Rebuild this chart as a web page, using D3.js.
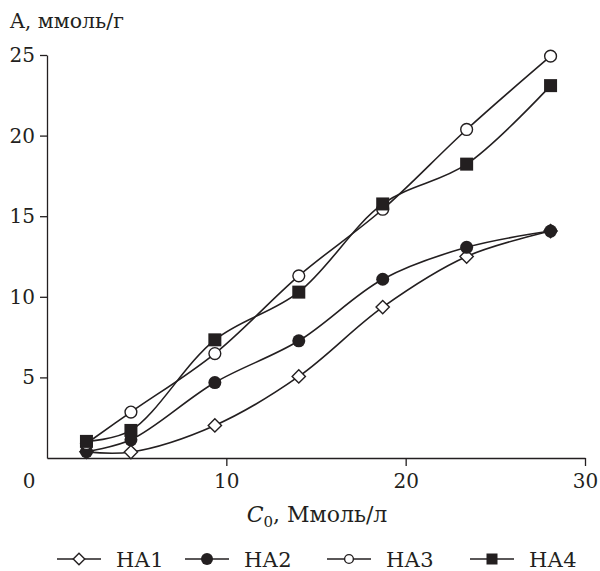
<!DOCTYPE html>
<html>
<head>
<meta charset="utf-8">
<script src="https://cdn.jsdelivr.net/npm/d3@7"></script>
<style>
    body { margin: 0; background: #fff; }
    text { font-family: "DejaVu Serif", serif; fill: #231f20; }
</style>
</head>
<body>
<div id="chart"></div>
<script>
// concentrations, mmol/l
const concentrations = [2.2, 4.68, 9.36, 14.04, 18.72, 23.4, 28.08];

const seriesNames = ["НА1", "НА2", "НА3", "НА4"];
const ha1 = [0.38, 0.37, 2.02, 5.06, 9.36, 12.5, 14.08];
const ha2 = [0.4, 1.13, 4.68, 7.27, 11.09, 13.07, 14.08];
const ha3 = [0.9, 2.85, 6.48, 11.3, 15.43, 20.38, 24.93];
const ha4 = [1.03, 1.71, 7.33, 10.29, 15.76, 18.23, 23.1];

const xTicks = [10, 20, 30];
const yTicks = [5, 10, 15, 20, 25];

const margin = { top: 55, right: 15, bottom: 113, left: 47 };
const width = 600 - margin.left - margin.right;
const height = 571 - margin.top - margin.bottom;
const ink = "#231f20";

const svg = d3.select("#chart").append("svg")
    .attr("width", 600)
    .attr("height", 571);

const chart = svg.append("g")
    .attr("transform", `translate(${margin.left},${margin.top})`);

const x = d3.scaleLinear().domain([0, 30]).range([0, 538]);
const y = d3.scaleLinear().domain([0, 25]).range([height, 0]);

// axes
const xAxis = chart.append("g")
    .attr("transform", `translate(0,${height})`)
    .call(d3.axisBottom(x).tickValues(xTicks).tickSize(8).tickPadding(8).tickSizeOuter(0));
const yAxis = chart.append("g")
    .call(d3.axisLeft(y).tickValues(yTicks).tickSize(7).tickPadding(5).tickSizeOuter(0));

[xAxis, yAxis].forEach(a => {
    a.select(".domain").attr("stroke", ink).attr("stroke-width", 1.3);
    a.selectAll(".tick line").attr("stroke", ink).attr("stroke-width", 1.3);
    a.selectAll(".tick text").style("font-family", "DejaVu Serif").style("font-size", "20px").attr("fill", ink);
});

// origin label
chart.append("text")
    .attr("x", -18).attr("y", height + 30)
    .attr("text-anchor", "middle")
    .style("font-size", "20px")
    .text("0");

// axis titles
svg.append("text")
    .attr("x", 10).attr("y", 28)
    .style("font-size", "20.5px")
    .text("A, ммоль/г");

const xTitle = svg.append("text")
    .attr("x", 317).attr("y", 522)
    .attr("text-anchor", "middle")
    .style("font-size", "22px");
xTitle.append("tspan").style("font-style", "italic").text("C");
xTitle.append("tspan").attr("dy", 5).style("font-size", "15px").text("0");
xTitle.append("tspan").attr("dy", -5).text(", Ммоль/л");

// series
const allSeries = [ha1, ha2, ha3, ha4].map((vals, i) => ({
    name: seriesNames[i],
    points: vals.map((v, j) => ({ c: concentrations[j], a: v }))
}));

const line = d3.line()
    .x(d => x(d.c))
    .y(d => y(d.a))
    .curve(d3.curveCatmullRom.alpha(0.5));

chart.selectAll(".series-line")
    .data(allSeries)
    .enter().append("path")
    .attr("class", "series-line")
    .attr("d", d => line(d.points))
    .attr("fill", "none")
    .attr("stroke", ink)
    .attr("stroke-width", 1.6);

// marker drawing per series type
function drawMarker(g, idx, cx, cy, s) {
    if (idx === 0) {
        g.append("path")
            .attr("d", d3.symbol(d3.symbolDiamond2, s * s * 0.5)())
            .attr("transform", `translate(${cx},${cy})`)
            .attr("fill", "#fff").attr("stroke", ink).attr("stroke-width", 1.4);
    } else if (idx === 1) {
        g.append("circle").attr("cx", cx).attr("cy", cy).attr("r", s / 2)
            .attr("fill", ink);
    } else if (idx === 2) {
        g.append("circle").attr("cx", cx).attr("cy", cy).attr("r", s / 2 - 0.6)
            .attr("fill", "#fff").attr("stroke", ink).attr("stroke-width", 1.4);
    } else {
        g.append("rect").attr("x", cx - s / 2).attr("y", cy - s / 2)
            .attr("width", s).attr("height", s).attr("fill", ink);
    }
}

const plotSizes = [15, 13, 13, 13];
allSeries.forEach((s, i) => {
    const g = chart.append("g");
    s.points.forEach(p => drawMarker(g, i, x(p.c), y(p.a), plotSizes[i]));
});

// legend
const legendX = [57, 185, 327, 470];
const legendSizes = [13, 12, 10, 11];
const legend = svg.append("g").attr("transform", "translate(0,559)");
seriesNames.forEach((name, i) => {
    const item = legend.append("g").attr("transform", `translate(${legendX[i]},0)`);
    item.append("line")
        .attr("x1", 0).attr("x2", 44).attr("y1", 0).attr("y2", 0)
        .attr("stroke", ink).attr("stroke-width", 1.6);
    drawMarker(item, i, 22, 0, legendSizes[i]);
    item.append("text")
        .attr("x", 59).attr("y", 8)
        .style("font-size", "21px")
        .text(name);
});
</script>
</body>
</html>
